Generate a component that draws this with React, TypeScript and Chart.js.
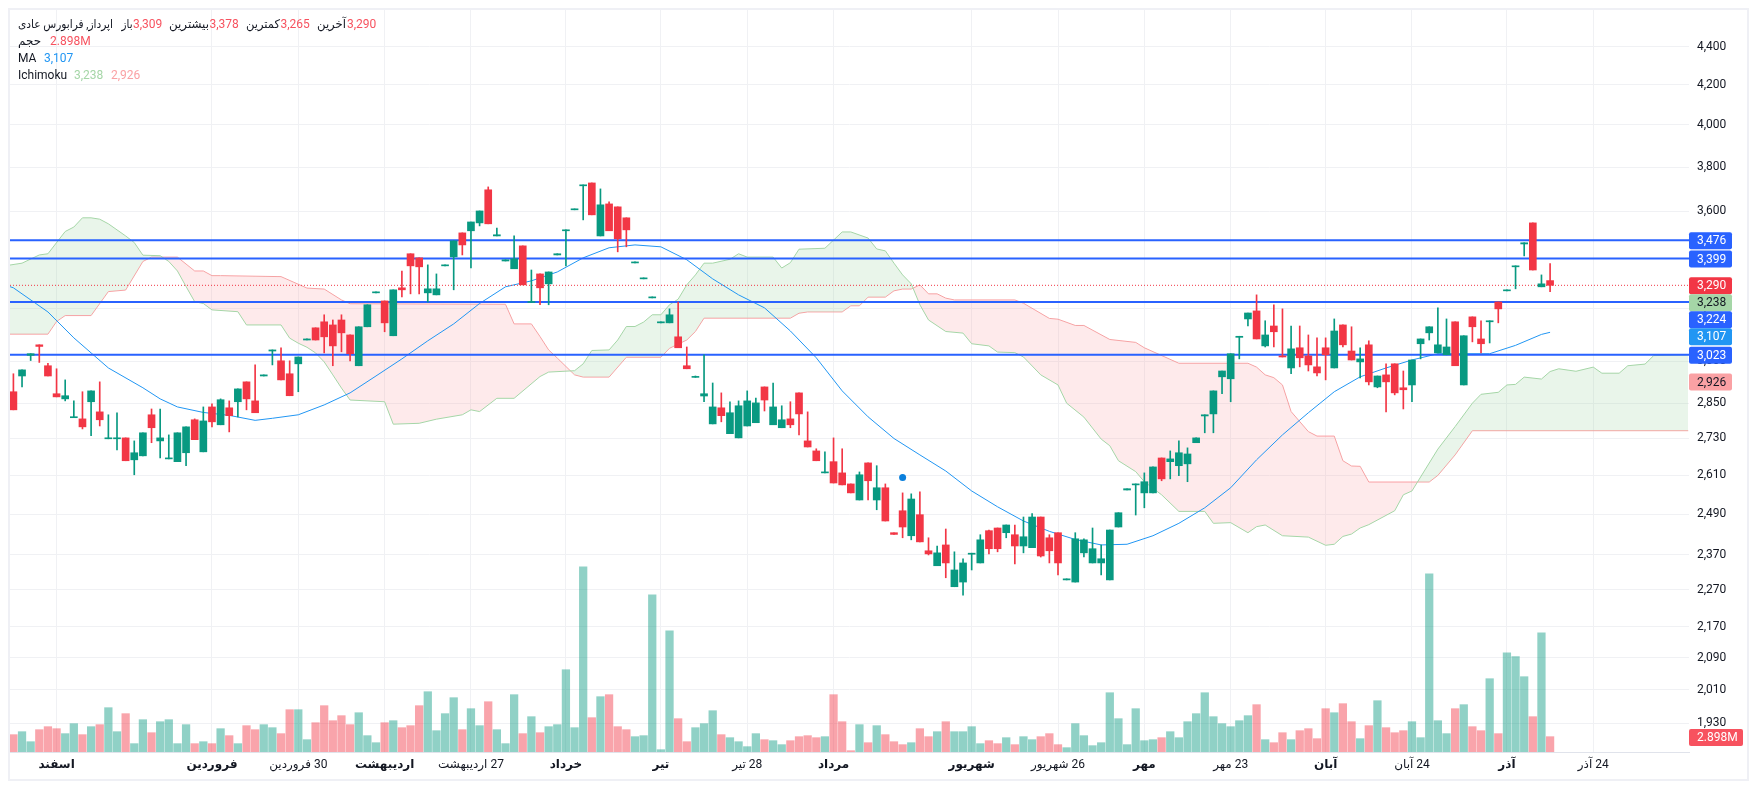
import React, { useEffect, useRef } from 'react';
import Chart from 'chart.js/auto';

const opens = [
  2890, 2946, 3021, 3060, 2983, 2883, 2865, 2800, 2796, 2855,
  2820, 2729, 2729, 2732, 2660, 2673, 2810, 2722, 2663, 2654,
  2683, 2793, 2686, 2837, 2776, 2834, 2855, 2925, 2858, 2946,
  3037, 3001, 2954, 2990, 3078, 3124, 3147, 3135, 3154, 3097,
  2983, 3128, 3260, 3228, 3094, 3280, 3419, 3402, 3260, 3252,
  3369, 3406, 3507, 3516, 3550, 3696, 3494, 3389, 3357, 3452,
  3222, 3336, 3296, 3414, 3516, 3607, 3714, 3727, 3494, 3633,
  3620, 3572, 3381, 3316, 3240, 3143, 3143, 3090, 2983, 2941,
  2875, 2779, 2834, 2746, 2732, 2772, 2783, 2907, 2776, 2766,
  2796, 2886, 2722, 2689, 2618, 2654, 2618, 2583, 2533, 2650,
  2533, 2571, 2434, 2500, 2425, 2488, 2381, 2338, 2398, 2279,
  2292, 2371, 2346, 2440, 2448, 2434, 2428, 2395, 2390, 2481,
  2419, 2434, 2298, 2292, 2375, 2346, 2346, 2298, 2451, 2564,
  2580, 2555, 2555, 2666, 2654, 2641, 2647, 2716, 2806, 2813,
  2943, 2936, 3088, 3158, 3189, 3056, 3131, 3019, 2975, 3049,
  3019, 2979, 3049, 2975, 3135, 3037, 2997, 3060, 2907, 2950,
  2990, 2904, 2914, 3064, 3105, 3030, 3023, 3147, 2914, 3166,
  3082, 3147, 3224, 3268, 3365, 3460, 3550, 3284, 3309,
];
const highs = [
  2954, 2968, 3027, 3060, 2992, 2972, 2932, 2858, 2890, 2893,
  2925, 2810, 2817, 2732, 2722, 2749, 2830, 2830, 2742, 2749,
  2769, 2796, 2837, 2848, 2865, 2858, 2900, 2925, 2986, 2950,
  3041, 3049, 3001, 3015, 3082, 3124, 3174, 3154, 3174, 3097,
  3128, 3213, 3264, 3228, 3272, 3348, 3419, 3402, 3373, 3336,
  3373, 3473, 3507, 3554, 3602, 3709, 3528, 3394, 3494, 3452,
  3352, 3336, 3344, 3419, 3520, 3611, 3718, 3727, 3700, 3642,
  3620, 3572, 3385, 3320, 3244, 3147, 3197, 3224, 3052, 2946,
  3023, 2921, 2886, 2855, 2858, 2893, 2868, 2907, 2921, 2841,
  2855, 2886, 2820, 2696, 2686, 2732, 2696, 2583, 2621, 2650,
  2641, 2583, 2434, 2555, 2552, 2558, 2419, 2395, 2445, 2378,
  2358, 2374, 2428, 2442, 2448, 2457, 2457, 2481, 2491, 2481,
  2428, 2434, 2301, 2434, 2416, 2448, 2398, 2442, 2494, 2568,
  2583, 2618, 2637, 2666, 2689, 2722, 2699, 2732, 2810, 2893,
  2964, 3027, 3092, 3181, 3252, 3151, 3213, 3197, 3131, 3131,
  3097, 3086, 3086, 3158, 3135, 3128, 3049, 3075, 2946, 2990,
  2990, 2964, 3004, 3082, 3128, 3201, 3158, 3147, 3094, 3166,
  3151, 3151, 3224, 3272, 3369, 3465, 3550, 3332, 3378,
];
const lows = [
  2827, 2907, 3002, 2995, 2946, 2872, 2858, 2800, 2762, 2739,
  2772, 2729, 2692, 2657, 2612, 2673, 2716, 2666, 2663, 2654,
  2641, 2726, 2686, 2769, 2776, 2752, 2803, 2827, 2817, 2946,
  2986, 2932, 2876, 2890, 3078, 3078, 3030, 2983, 3034, 3001,
  2983, 3128, 3260, 3109, 3094, 3244, 3256, 3256, 3224, 3252,
  3369, 3272, 3414, 3361, 3537, 3546, 3494, 3389, 3357, 3292,
  3222, 3213, 3213, 3414, 3369, 3607, 3563, 3585, 3494, 3516,
  3427, 3448, 3381, 3316, 3240, 3143, 3143, 3049, 2972, 2941,
  2855, 2779, 2786, 2746, 2732, 2772, 2783, 2823, 2776, 2766,
  2766, 2742, 2702, 2657, 2618, 2586, 2580, 2555, 2533, 2533,
  2503, 2469, 2429, 2419, 2413, 2407, 2369, 2338, 2304, 2279,
  2256, 2326, 2346, 2372, 2378, 2419, 2343, 2375, 2390, 2363,
  2346, 2312, 2298, 2292, 2363, 2346, 2312, 2298, 2451, 2564,
  2487, 2509, 2555, 2593, 2599, 2609, 2590, 2716, 2749, 2749,
  2883, 2855, 3008, 3131, 3082, 3052, 3052, 3015, 2954, 2979,
  2964, 2946, 2932, 2975, 3052, 3004, 2939, 2914, 2904, 2820,
  2879, 2830, 2855, 3008, 3078, 3030, 3023, 2983, 2914, 3071,
  3030, 3067, 3143, 3268, 3276, 3410, 3352, 3284, 3265,
];
const closes = [
  2827, 2968, 3027, 3054, 2946, 2872, 2876, 2803, 2769, 2893,
  2793, 2732, 2732, 2657, 2683, 2749, 2766, 2732, 2666, 2749,
  2769, 2726, 2789, 2786, 2862, 2807, 2900, 2865, 2817, 2950,
  3041, 2932, 2876, 3015, 3082, 3078, 3090, 3056, 3105, 3027,
  3128, 3213, 3264, 3143, 3272, 3272, 3369, 3365, 3276, 3276,
  3373, 3473, 3456, 3554, 3602, 3546, 3499, 3394, 3398, 3292,
  3226, 3280, 3344, 3419, 3520, 3611, 3718, 3585, 3629, 3516,
  3482, 3520, 3385, 3320, 3244, 3147, 3174, 3049, 2972, 2943,
  2883, 2837, 2807, 2817, 2841, 2858, 2851, 2861, 2837, 2793,
  2776, 2813, 2702, 2657, 2621, 2586, 2580, 2555, 2612, 2593,
  2571, 2469, 2429, 2451, 2536, 2407, 2372, 2375, 2346, 2326,
  2346, 2374, 2413, 2387, 2387, 2457, 2395, 2422, 2481, 2366,
  2381, 2346, 2301, 2416, 2413, 2387, 2358, 2442, 2494, 2568,
  2583, 2590, 2637, 2599, 2663, 2683, 2679, 2732, 2810, 2893,
  2964, 3027, 3092, 3181, 3082, 3097, 3109, 3015, 3045, 3012,
  2986, 2957, 3023, 3112, 3060, 3004, 3008, 2925, 2946, 2925,
  2886, 2897, 3004, 3082, 3128, 3060, 3052, 2983, 3094, 3128,
  3064, 3151, 3197, 3272, 3369, 3465, 3352, 3296, 3290,
];
// volume in millions
const volumes = [
  3.28, 3.84, 1.95, 4.22, 4.79, 4.41, 3.47, 5.36, 3.28, 4.79,
  5.17, 8.38, 3.84, 7.25, 1.58, 6.11, 3.65, 5.73, 6.11, 1.58,
  5.17, 1.58, 1.95, 1.58, 4.41, 3.09, 1.58, 4.98, 4.22, 5.17,
  4.6, 3.47, 8.0, 8.0, 2.33, 5.54, 8.76, 5.92, 6.87, 5.17,
  7.43, 3.09, 1.76, 5.54, 5.92, 4.6, 4.98, 8.76, 11.4, 4.03,
  7.25, 10.27, 4.22, 8.19, 4.98, 9.51, 4.22, 1.58, 10.84, 3.47,
  6.68, 3.65, 4.79, 5.17, 15.56, 4.6, 35.03, 6.49, 10.46, 10.84,
  4.79, 4.22, 2.9, 3.09, 29.74, 0.44, 22.93, 6.3, 1.95, 4.6,
  5.36, 7.81, 3.28, 2.71, 1.95, 1.01, 3.47, 2.33, 2.14, 1.39,
  2.14, 2.9, 3.09, 2.71, 2.9, 10.84, 5.73, 0.25, 5.17, 1.76,
  4.98, 3.28, 1.95, 1.39, 1.76, 4.41, 2.9, 3.84, 5.73, 3.84,
  3.84, 4.79, 1.58, 2.14, 1.58, 2.71, 1.39, 2.9, 2.33, 2.9,
  3.47, 1.39, 0.82, 5.36, 3.09, 1.2, 1.76, 11.21, 6.3, 1.39,
  8.19, 2.14, 2.33, 2.71, 3.84, 2.71, 5.73, 7.25, 11.21, 6.68,
  5.36, 4.79, 5.92, 6.87, 8.95, 2.33, 1.76, 3.65, 2.33, 4.03,
  4.41, 2.52, 8.19, 7.43, 9.14, 5.73, 2.52, 4.98, 9.7, 4.6,
  3.65, 4.03, 5.73, 2.71, 33.7, 5.92, 3.47, 8.19, 8.95, 4.79,
  4.03, 13.86, 3.47, 18.77, 18.02, 14.24, 6.68, 22.55, 2.898,
];

const maBars = [
  0, 1, 5, 8, 10, 12, 16, 18, 20, 23, 26, 29, 31, 34, 37, 40, 43, 46, 49, 52, 55,
  58, 61, 64, 67, 70, 73, 76, 79, 82, 85, 88, 91, 94, 97, 100, 103, 106, 109, 112, 115,
  118, 121, 124, 127, 130, 133, 136, 139, 142, 145, 148, 151, 154, 157, 160, 163, 166, 169, 172, 175,
  178, 179,
];
const maValues = [
  3292, 3280, 3185, 3086, 3030, 2975, 2904, 2865, 2837, 2818, 2808, 2791, 2798, 2810, 2844, 2886, 2946, 3008, 3075, 3139, 3218,
  3284, 3308, 3344, 3402, 3444, 3456, 3448, 3394, 3316, 3252, 3201, 3112, 3012, 2893, 2803, 2730, 2676, 2624, 2561, 2512,
  2469, 2438, 2414, 2398, 2400, 2425, 2462, 2509, 2571, 2660, 2742, 2817, 2890, 2943, 2975, 3004, 3027, 3027, 3027, 3058,
  3099, 3107,
];

const spanABars = [
  0, 2, 4, 5, 7, 8, 9, 10, 11, 12, 14, 15, 16, 18, 19, 20, 21, 22, 23, 24,
  27, 28, 32, 33, 34, 35, 36, 37, 38, 39, 40, 44, 45, 48, 50, 53, 54, 55, 57, 59,
  62, 63, 66, 67, 68, 70, 71, 72, 73, 74, 75, 76, 77, 78, 79, 80, 81, 82, 84, 85,
  86, 89, 90, 91, 92, 95, 97, 98, 100, 101, 102, 103, 104, 105, 106, 107, 109, 111, 112, 114,
  115, 117, 118, 120, 122, 123, 125, 127, 128, 129, 131, 132, 134, 136, 139, 140, 142, 144, 145, 146,
  148, 151, 153, 154, 155, 156, 157, 158, 161, 162, 163, 166, 168, 170, 171, 173, 174, 175, 176, 178,
  179, 180, 182, 184, 185, 187, 188, 190, 191, 195,
];
const spanAValues = [
  3369, 3380, 3414, 3419, 3513, 3532, 3572, 3572, 3566, 3546, 3494, 3466, 3413, 3411, 3387, 3348, 3285, 3225, 3218, 3193,
  3186, 3135, 3135, 3085, 3066, 3051, 3030, 2997, 2950, 2903, 2861, 2855, 2778, 2781, 2795, 2810, 2827, 2821, 2867, 2867,
  2944, 2960, 2965, 2990, 3039, 3041, 3078, 3129, 3129, 3146, 3174, 3174, 3213, 3235, 3292, 3332, 3380, 3380, 3396, 3419,
  3405, 3405, 3360, 3382, 3438, 3442, 3511, 3511, 3485, 3439, 3431, 3380, 3332, 3296, 3213, 3154, 3110, 3104, 3064, 3056,
  3033, 3031, 3015, 2950, 2914, 2850, 2802, 2728, 2706, 2657, 2622, 2590, 2549, 2498, 2498, 2462, 2464, 2434, 2452, 2457,
  2425, 2421, 2397, 2400, 2423, 2430, 2448, 2458, 2500, 2549, 2561, 2695, 2770, 2850, 2881, 2888, 2914, 2916, 2942, 2935,
  2962, 2972, 2963, 2978, 2956, 2956, 2983, 2989, 3020, 3023,
];

const spanBBars = [
  0, 5, 6, 7, 10, 12, 14, 16, 17, 20, 22, 23, 24, 25, 32, 35, 37, 39, 40, 58,
  59, 61, 62, 63, 64, 66, 67, 70, 72, 76, 77, 79, 80, 81, 91, 92, 93, 97, 98, 99,
  100, 102, 103, 104, 105, 106, 107, 108, 109, 110, 117, 118, 121, 122, 124, 125, 128, 131, 132, 136,
  144, 145, 146, 147, 148, 149, 151, 152, 154, 155, 156, 157, 158, 165, 166, 168, 170, 195,
];
const spanBValues = [
  3100, 3100, 3148, 3171, 3171, 3265, 3271, 3387, 3405, 3405, 3348, 3348, 3329, 3329, 3325, 3279, 3275, 3232, 3217, 3215,
  3139, 3139, 3091, 3041, 3011, 2950, 2942, 2942, 3014, 3014, 3047, 3078, 3110, 3161, 3161, 3180, 3185, 3185, 3209, 3209,
  3243, 3243, 3268, 3275, 3275, 3292, 3256, 3256, 3239, 3232, 3232, 3219, 3160, 3157, 3133, 3133, 3080, 3069, 3049, 2992,
  2992, 2978, 2950, 2940, 2914, 2821, 2753, 2738, 2738, 2657, 2640, 2639, 2589, 2589, 2610, 2676, 2756, 2756,
];

const priceLevels = [3476, 3399, 3224, 3023];
const lastClose = 3290;
const eventBar = 104;
const eventPrice = 2603;

const priceTicks = [
  4400, 4200, 4000, 3800, 3600, 3400, 3200, 3000, 2850, 2730, 2610, 2490, 2370, 2270, 2170, 2090, 2010, 1930,
];
const timeBars = [6, 24, 34, 44, 54, 65, 76, 86, 96, 112, 122, 132, 142, 153, 163, 174, 184];
const timeLabels = [
  'اسفند', 'فروردین', '30 فروردین', 'اردیبهشت', '27 اردیبهشت', 'خرداد', 'تیر', '28 تیر', 'مرداد',
  'شهریور', '26 شهریور', 'مهر', '23 مهر', 'آبان', '24 آبان', 'آذر', '24 آذر',
];
const monthBars = [6, 24, 44, 65, 76, 96, 112, 132, 153, 174];

const UP = '#089981';
const DOWN = '#f23645';
const LEVEL = '#2962ff';
const MA_COLOR = '#2196f3';
const SPAN_A = '#a5d6a7';
const SPAN_B = '#faa1a4';
const FONT = "Roboto, 'DejaVu Sans', sans-serif";

const bars = closes.map((_, i) => i + 1);
const isUp = closes.map((c, i) => c >= opens[i]);
const xMin = 0.606;
const xMax = 195.09;

const drawText = (
  ctx: CanvasRenderingContext2D,
  text: string,
  x: number,
  y: number,
  color: string,
  maxWidth?: number,
) => {
  ctx.fillStyle = color;
  if (maxWidth) ctx.fillText(text, x, y, maxWidth);
  else ctx.fillText(text, x, y);
};

// legend rows and the price badges on the right, drawn after the axes
const overlayPlugin = {
  id: 'overlay',
  afterDraw(chart: Chart) {
    const ctx = chart.ctx;
    const y = chart.scales.y;
    const edge = chart.chartArea.right;
    ctx.save();
    ctx.font = `12px ${FONT}`;
    ctx.textBaseline = 'middle';
    ctx.textAlign = 'left';

    const dark = '#131722';
    const red = '#f7525f';
    drawText(ctx, 'اپرداز, فرابورس عادی', 8, 15, dark, 95);
    drawText(ctx, 'باز', 111.5, 15, dark, 11);
    drawText(ctx, '3,309', 123, 15, red);
    drawText(ctx, 'بیشترین', 159, 15, dark, 40);
    drawText(ctx, '3,378', 199.5, 15, red);
    drawText(ctx, 'کمترین', 236, 15, dark, 34);
    drawText(ctx, '3,265', 270.5, 15, red);
    drawText(ctx, 'آخرین', 307, 15, dark, 29);
    drawText(ctx, '3,290', 337, 15, red);
    drawText(ctx, 'حجم', 8, 32, dark, 25);
    drawText(ctx, '2.898M', 40, 32, red);
    drawText(ctx, 'MA', 8, 49, dark);
    drawText(ctx, '3,107', 34, 49, MA_COLOR);
    drawText(ctx, 'Ichimoku', 8, 66, dark);
    drawText(ctx, '3,238', 64, 66, SPAN_A);
    drawText(ctx, '2,926', 101, 66, SPAN_B);

    const badges = [
      { value: 3476, bg: LEVEL, fg: '#fff' },
      { value: 3399, bg: LEVEL, fg: '#fff' },
      { value: 3290, bg: DOWN, fg: '#fff' },
      { value: 3238, bg: SPAN_A, fg: dark },
      { value: 3224, bg: LEVEL, fg: '#fff' },
      { value: 3107, bg: MA_COLOR, fg: '#fff' },
      { value: 3023, bg: LEVEL, fg: '#fff' },
      { value: 2926, bg: SPAN_B, fg: dark },
    ];
    let last = -100;
    badges.forEach((b) => {
      const cy = Math.max(y.getPixelForValue(b.value), last + 17);
      last = cy;
      ctx.fillStyle = b.bg;
      ctx.beginPath();
      ctx.roundRect(edge, cy - 8, 43, 17, 2);
      ctx.fill();
      drawText(ctx, b.value.toLocaleString('en-US'), edge + 8, cy + 1, b.fg);
    });

    ctx.fillStyle = red;
    ctx.beginPath();
    ctx.roundRect(edge, 719, 54, 17, 2);
    ctx.fill();
    drawText(ctx, '2.898M', edge + 8, 728, '#fff');
    ctx.restore();
  },
};

// tick labels must not pull the plot area in from the frame
const clearPadding = (scale: any) => {
  scale.paddingLeft = 0;
  scale.paddingRight = 0;
  scale.paddingTop = 0;
  scale.paddingBottom = 0;
};

const App: React.FC = () => {
  const chartRef = useRef<HTMLCanvasElement>(null);

  useEffect(() => {
    if (!chartRef.current) return;

    const levelSets = priceLevels.map((p) => ({
      type: 'line' as const,
      data: [{ x: xMin, y: p }, { x: xMax, y: p }],
      borderColor: LEVEL,
      borderWidth: 2,
      pointRadius: 0,
      order: 6,
    }));

    const chart = new Chart(chartRef.current, {
      type: 'bar',
      data: {
        datasets: [
          {
            type: 'bar',
            yAxisID: 'vol',
            data: bars.map((b, i) => ({ x: b, y: volumes[i] })),
            backgroundColor: isUp.map((u) => (u ? 'rgba(8,153,129,0.45)' : 'rgba(242,54,69,0.45)')),
            barThickness: 7.6,
            order: 12,
          },
          {
            type: 'line',
            data: spanBBars.map((b, i) => ({ x: b, y: spanBValues[i] })),
            borderColor: SPAN_B,
            borderWidth: 1,
            pointRadius: 0,
            order: 10,
          },
          {
            type: 'line',
            data: spanABars.map((b, i) => ({ x: b, y: spanAValues[i] })),
            borderColor: SPAN_A,
            borderWidth: 1,
            pointRadius: 0,
            fill: { target: 1, above: 'rgba(165,214,167,0.24)', below: 'rgba(250,161,164,0.22)' },
            order: 9,
          },
          {
            type: 'line',
            data: maBars.map((b, i) => ({ x: b, y: maValues[i] })),
            borderColor: MA_COLOR,
            borderWidth: 1,
            pointRadius: 0,
            order: 7,
          },
          ...levelSets,
          {
            type: 'line',
            data: [{ x: xMin, y: lastClose }, { x: xMax, y: lastClose }],
            borderColor: DOWN,
            borderWidth: 1,
            borderDash: [1, 2],
            pointRadius: 0,
            order: 5,
          },
          {
            type: 'bar',
            data: bars.map((b, i) => ({ x: b, y: [lows[i], highs[i]] })),
            backgroundColor: isUp.map((u) => (u ? UP : DOWN)),
            barThickness: 1,
            order: 2,
          },
          {
            type: 'bar',
            data: bars.map((b, i) => ({ x: b, y: [opens[i], closes[i]] })),
            backgroundColor: isUp.map((u) => (u ? UP : DOWN)),
            barThickness: 7,
            minBarLength: 1,
            order: 1,
          },
          {
            type: 'line',
            data: [{ x: eventBar, y: eventPrice }],
            pointRadius: 3.5,
            pointBackgroundColor: '#0a7fdc',
            pointBorderWidth: 0,
            showLine: false,
            order: 0,
          },
        ],
      },
      options: {
        responsive: false,
        animation: false,
        font: { family: FONT, size: 12 },
        layout: { padding: 0, autoPadding: false },
        datasets: { bar: { grouped: false } },
        elements: { line: { tension: 0 } },
        plugins: { legend: { display: false }, tooltip: { enabled: false } },
        scales: {
          x: {
            type: 'linear',
            offset: false,
            min: xMin,
            max: xMax,
            afterBuildTicks: (scale: any) => {
              scale.ticks = timeBars.map((value) => ({ value }));
            },
            afterFit: (scale: any) => {
              scale.height = 27;
              clearPadding(scale);
            },
            grid: { color: '#f0f1f4', drawTicks: false, offset: false },
            border: { color: '#e0e3eb' },
            ticks: {
              autoSkip: false,
              maxRotation: 0,
              padding: 6,
              color: '#131722',
              font: (ctx: any) => ({
                family: FONT,
                size: 12,
                weight: monthBars.includes(ctx.tick?.value) ? 'bold' : 'normal',
              }),
              // keeps "30 month" reading right to left on the canvas
              callback: (value: any) => `\u202B${timeLabels[timeBars.indexOf(value)]}\u202C`,
            },
          },
          y: {
            type: 'logarithmic',
            position: 'right',
            min: 1863.4,
            max: 4601,
            afterBuildTicks: (scale: any) => {
              scale.ticks = priceTicks.map((value) => ({ value }));
            },
            afterFit: (scale: any) => {
              scale.width = 58;
              clearPadding(scale);
            },
            grid: { color: '#f0f1f4', drawTicks: false },
            border: { display: false },
            ticks: {
              padding: 8,
              color: '#131722',
              font: { family: FONT, size: 12 },
              callback: (value: any) => Number(value).toLocaleString('en-US'),
            },
          },
          vol: { type: 'linear', display: false, min: 0, max: 140.3 },
        },
      } as any,
      plugins: [overlayPlugin],
    });

    return () => {
      chart.destroy();
    };
  }, []);

  return (
    <div style={{ width: 1737, height: 769, border: '2px solid #eff0f5' }}>
      <canvas ref={chartRef} width={1737} height={769} style={{ display: 'block' }} />
    </div>
  );
};

export default App;
